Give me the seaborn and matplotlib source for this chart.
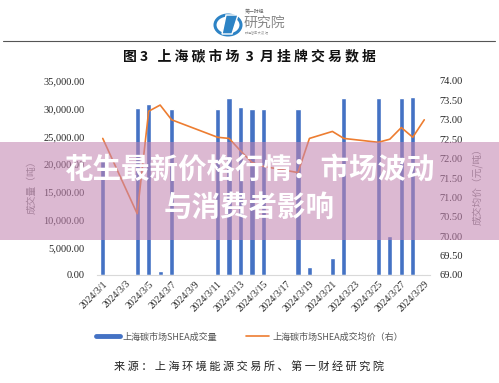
import numpy as np
import pandas as pd
import matplotlib
matplotlib.use("Agg")
import matplotlib.pyplot as plt
import matplotlib.patches as mpatches
from matplotlib.ticker import FuncFormatter, MultipleLocator
import seaborn as sns

# all calendar days shown on the axis
all_dates = ['2024/3/%d' % d for d in range(1, 30)]

# trading days with data
trade_dates = ['2024/3/1', '2024/3/4', '2024/3/5', '2024/3/6', '2024/3/7',
               '2024/3/11', '2024/3/12', '2024/3/13', '2024/3/14', '2024/3/15',
               '2024/3/18', '2024/3/19', '2024/3/21', '2024/3/22',
               '2024/3/25', '2024/3/26', '2024/3/27', '2024/3/28', '2024/3/29']
volume = [21000, 30100, 30900, 700, 30000,
          30000, 32000, 30300, 30000, 30000,
          30000, 1400, 3100, 32000,
          32000, 7000, 32000, 32100, 200]
price = [72.52, 70.58, 73.22, 73.38, 73.00,
         72.55, 72.52, 72.20, 71.90, 71.80,
         71.64, 72.52, 72.70, 72.52,
         72.42, 72.50, 72.80, 72.55, 73.00]

tick_labels = all_dates[::2]

df = pd.DataFrame({'date': trade_dates, 'volume': volume, 'price': price})
df['pos'] = [all_dates.index(d) for d in trade_dates]

sns.set_style('white')
plt.rcParams['font.family'] = ['Noto Sans CJK SC', 'DejaVu Sans']

blue = '#4472C4'
orange = '#ED7D31'
serif = ['Liberation Serif', 'DejaVu Serif']

fig = plt.figure(figsize=(4.99, 3.83), dpi=100)
ax = fig.add_axes([97 / 499, 108 / 383, 333 / 499, 194 / 383])

# bars: volume
sns.barplot(data=df, x='date', y='volume', order=all_dates, color=blue,
            saturation=1, width=0.45, ax=ax)
ax.set_xlim(-0.5, len(all_dates) - 0.5)
ax.set_ylim(0, 35000)
ax.yaxis.set_major_locator(MultipleLocator(5000))
ax.yaxis.set_major_formatter(FuncFormatter(lambda v, p: '{:,.2f}'.format(v)))
ax.set_xticks(range(0, len(all_dates), 2))
ax.set_xticklabels(tick_labels, rotation=45, ha='right', rotation_mode='anchor',
                   fontsize=7, family=serif)
for t in ax.get_yticklabels():
    t.set_family(serif)
    t.set_fontsize(7.5)
ax.tick_params(axis='y', length=0, pad=9)
ax.tick_params(axis='x', length=0, pad=3)
ax.set_xlabel('')
ax.set_ylabel('')
for s in ['top', 'left', 'right']:
    ax.spines[s].set_visible(False)
ax.spines['bottom'].set_color('#d9d9d9')

# line: price on right axis
ax2 = ax.twinx()
sns.lineplot(data=df, x='pos', y='price', color=orange, linewidth=1.2, ax=ax2)
ax2.set_ylim(69, 74)
ax2.set_xlim(-0.5, len(all_dates) - 0.5)
ax2.yaxis.set_major_locator(MultipleLocator(0.5))
ax2.yaxis.set_major_formatter(FuncFormatter(lambda v, p: '%.2f' % v))
for t in ax2.get_yticklabels():
    t.set_family(serif)
    t.set_fontsize(7.5)
ax2.tick_params(axis='y', length=0, pad=7)
ax2.set_xlabel('')
ax2.set_ylabel('')
for s in ax2.spines.values():
    s.set_visible(False)

# axis titles
fig.text(0.064, 0.517, '成交量（吨）', rotation=90, ha='center', va='center',
         fontsize=7, color='#7f7f7f')
fig.text(0.957, 0.52, '成交均价（元/吨）', rotation=90, ha='center', va='center',
         fontsize=7, color='#7f7f7f')

# logo
logo_ring = mpatches.Circle((228 / 499, 1 - 25 / 383), 13 / 499, transform=fig.transFigure,
                            facecolor='white', edgecolor='#2d83c5', linewidth=2.2)
fig.patches.append(logo_ring)
logo_leaf = mpatches.Polygon([(222 / 499, 1 - 34 / 383), (226 / 499, 1 - 15 / 383),
                              (238 / 499, 1 - 15 / 383), (232 / 499, 1 - 34 / 383)],
                             closed=True, transform=fig.transFigure, facecolor='#2d83c5')
fig.patches.append(logo_leaf)
fig.text(245 / 499, 1 - 12 / 383, '第一财经', fontsize=3.5, color='#666666', va='center')
fig.text(244 / 499, 1 - 23 / 383, '研究院', fontsize=10, color='#888888', va='center')
fig.text(245 / 499, 1 - 32 / 383, '财经智库 大 数 据', fontsize=2.2, color='#999999', va='center')

# rule and title
fig.add_artist(plt.Line2D([3 / 499, 495 / 499], [1 - 41 / 383, 1 - 41 / 383],
                          color='#555555', linewidth=0.8))
fig.text(0.5, 1 - 56 / 383, '图 3   上 海 碳 市 场  3  月 挂 牌 交 易 数 据',
         ha='center', va='center', fontsize=10, fontweight='bold', color='#111111')

# legend
h1 = plt.Line2D([], [], color=blue, linewidth=3.5)
h2 = plt.Line2D([], [], color=orange, linewidth=1.2)
fig.legend([h1, h2], ['上海碳市场SHEA成交量', '上海碳市场SHEA成交均价（右）'],
           loc='center', bbox_to_anchor=(0.5, 1 - 337 / 383), ncol=2, frameon=False,
           fontsize=6.5, handlelength=2.6, handletextpad=0.3, columnspacing=3.2,
           labelcolor='#555555')

# source
fig.text(0.5, 1 - 366 / 383, '来 源 ： 上 海 环 境 能 源 交 易 所 、 第 一 财 经 研 究 院',
         ha='center', va='center', fontsize=8, color='#222222')

# banner overlay
banner = mpatches.Rectangle((0, 1 - 240 / 383), 1, 98 / 383, transform=fig.transFigure,
                            facecolor='#c384b1', alpha=0.57, edgecolor='none', zorder=10)
fig.patches.append(banner)
fig.text(0.5, 1 - 170 / 383, '花生最新价格行情：市场波动', ha='center', va='center',
         fontsize=20.5, fontweight='bold', color='white', zorder=11)
fig.text(0.5, 1 - 208 / 383, '与消费者影响', ha='center', va='center',
         fontsize=20.5, fontweight='bold', color='white', zorder=11)

fig.savefig('out.png', dpi=100)
